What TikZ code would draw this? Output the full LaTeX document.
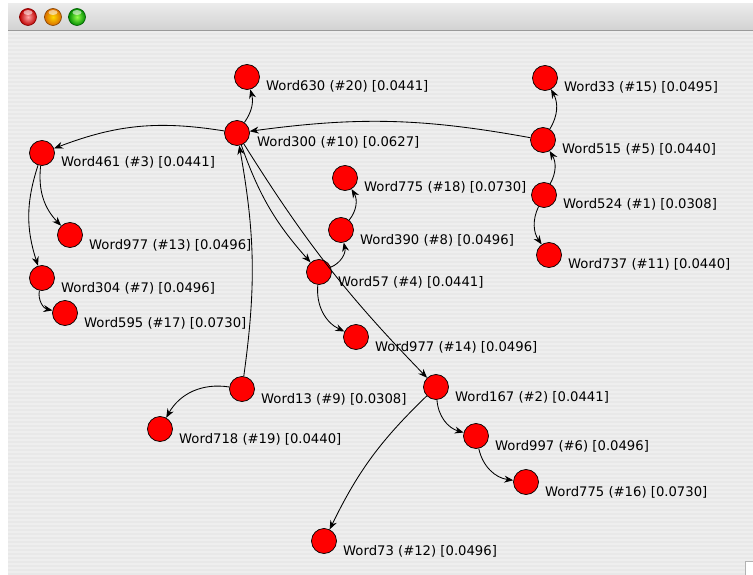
\documentclass[tikz,border=0pt]{standalone}
\usepackage{fontspec}
\setmainfont{DejaVu Sans}
\usetikzlibrary{arrows.meta,calc}
\definecolor{wbg}{HTML}{EEEEEE}
\definecolor{wstripe}{HTML}{E8E8E8}
\definecolor{tbtop}{HTML}{EBEBEB}
\definecolor{tbbot}{HTML}{D2D2D2}
\definecolor{tbline}{HTML}{9A9A9A}
\definecolor{vred}{HTML}{FF0000}
\begin{document}
\begin{tikzpicture}[x=1pt,y=-1pt,
  vtx/.style={circle,draw=black,line width=0.7pt,fill=vred,minimum size=25pt,inner sep=0pt},
  lbl/.style={anchor=base west,inner sep=0pt,font=\fontsize{13.2}{15}\selectfont,text=black},
  edge/.style={draw=black,line width=0.85pt,-{Stealth[length=9pt,width=7pt,inset=3pt]}},
  tlight/.style={circle,minimum size=17pt,inner sep=0pt,line width=0.6pt}]

\useasboundingbox (0,0) rectangle (753,575);
\fill[white] (0,0) rectangle (753,575);
% window body with pinstripes
\fill[wbg] (8,31) rectangle (753,575);
\foreach \y in {33,37,...,573} \fill[wstripe] (8,\y) rectangle (753,\y+2);
% title bar
\shade[top color=tbtop,bottom color=tbbot] (8,4) rectangle (753,30);
\fill[tbline] (8,30) rectangle (753,31.5);
% traffic lights
\node[tlight,draw=red!50!black,inner color=red!35!white,outer color=red!75!black] (tlr) at (28,17) {};
\node[tlight,draw=orange!50!black,inner color=yellow!70!orange,outer color=orange!85!black] (tlo) at (53,17) {};
\node[tlight,draw=green!35!black,inner color=green!60!yellow!70!white,outer color=green!55!black] (tlg) at (77,17) {};
\foreach \x in {28,53,77} \fill[white,opacity=0.55] (\x,12.5) ellipse (4.5 and 2.5);
% resize grip
\fill[white,draw=gray!60,line width=0.5pt] (745,561) rectangle (753.5,575.5);

% vertices
\node[vtx] (w630) at (247,77) {};
\node[vtx] (w300) at (237,133) {};
\node[vtx] (w461) at (42,153) {};
\node[vtx] (w977a) at (70,235) {};
\node[vtx] (w304) at (42,278) {};
\node[vtx] (w595) at (65,313) {};
\node[vtx] (w775a) at (345,178) {};
\node[vtx] (w390) at (341,230) {};
\node[vtx] (w57) at (319,272) {};
\node[vtx] (w977b) at (356,337) {};
\node[vtx] (w13) at (242,389) {};
\node[vtx] (w718) at (160,429) {};
\node[vtx] (w167) at (436,387) {};
\node[vtx] (w997) at (476,436) {};
\node[vtx] (w775b) at (526,482) {};
\node[vtx] (w73) at (324,541) {};
\node[vtx] (w33) at (545,78) {};
\node[vtx] (w515) at (543,140) {};
\node[vtx] (w524) at (544,195) {};
\node[vtx] (w737) at (549,255) {};

% labels
\node[lbl] (w630l) at ($(w630)+(19,14)$) {Word630 (\#20) [0.0441]};
\node[lbl] (w300l) at ($(w300)+(20,14)$) {Word300 (\#10) [0.0627]};
\node[lbl] (w461l) at ($(w461)+(19,14)$) {Word461 (\#3) [0.0441]};
\node[lbl] (w977al) at ($(w977a)+(19,14)$) {Word977 (\#13) [0.0496]};
\node[lbl] (w304l) at ($(w304)+(19,14)$) {Word304 (\#7) [0.0496]};
\node[lbl] (w595l) at ($(w595)+(19,14)$) {Word595 (\#17) [0.0730]};
\node[lbl] (w775al) at ($(w775a)+(19,14)$) {Word775 (\#18) [0.0730]};
\node[lbl] (w390l) at ($(w390)+(19,14)$) {Word390 (\#8) [0.0496]};
\node[lbl] (w57l) at ($(w57)+(19,14)$) {Word57 (\#4) [0.0441]};
\node[lbl] (w977bl) at ($(w977b)+(19,14)$) {Word977 (\#14) [0.0496]};
\node[lbl] (w13l) at ($(w13)+(19,14)$) {Word13 (\#9) [0.0308]};
\node[lbl] (w718l) at ($(w718)+(19,14)$) {Word718 (\#19) [0.0440]};
\node[lbl] (w167l) at ($(w167)+(19,14)$) {Word167 (\#2) [0.0441]};
\node[lbl] (w997l) at ($(w997)+(19,14)$) {Word997 (\#6) [0.0496]};
\node[lbl] (w775bl) at ($(w775b)+(19,14)$) {Word775 (\#16) [0.0730]};
\node[lbl] (w73l) at ($(w73)+(19,14)$) {Word73 (\#12) [0.0496]};
\node[lbl] (w33l) at ($(w33)+(19,14)$) {Word33 (\#15) [0.0495]};
\node[lbl] (w515l) at ($(w515)+(19,14)$) {Word515 (\#5) [0.0440]};
\node[lbl] (w524l) at ($(w524)+(19,14)$) {Word524 (\#1) [0.0308]};
\node[lbl] (w737l) at ($(w737)+(19,14)$) {Word737 (\#11) [0.0440]};

% edges
\draw[edge] (w300) to[bend right=25] (w630);
\draw[edge] (w515) to[bend right=9] (w300);
\draw[edge] (w300) to[bend right=15] (w461);
\draw[edge] (w461) to[bend right=25] (w977a);
\draw[edge] (w461) to[bend right=18] (w304);
\draw[edge] (w304) to[bend right=45] (w595);
\draw[edge] (w300) to[bend right=11] (w57);
\draw[edge] (w300) to[bend right=6] (w167);
\draw[edge] (w13) to[bend right=9] (w300);
\draw[edge] (w13) to[bend right=35] (w718);
\draw[edge] (w57) to[bend right=40] (w390);
\draw[edge] (w390) to[bend right=35] (w775a);
\draw[edge] (w57) to[bend right=35] (w977b);
\draw[edge] (w167) to[bend right=35] (w997);
\draw[edge] (w997) to[bend right=35] (w775b);
\draw[edge] (w167) to[bend right=10] (w73);
\draw[edge] (w515) to[bend right=30] (w33);
\draw[edge] (w524) to[bend right=30] (w515);
\draw[edge] (w524) to[bend right=30] (w737);
\end{tikzpicture}
\end{document}
